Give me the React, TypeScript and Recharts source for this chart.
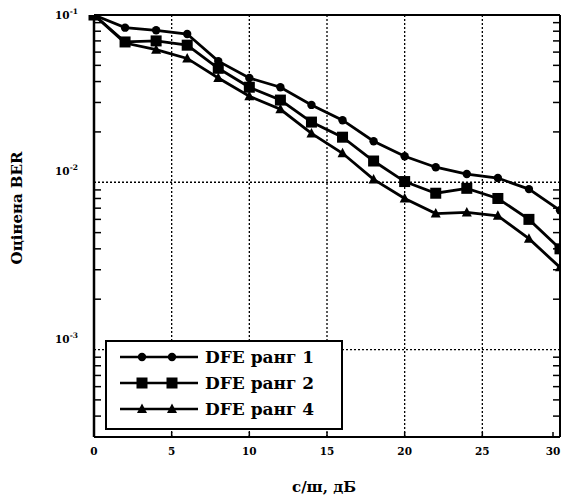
import React from 'react';
import {
  LineChart,
  Line,
  XAxis,
  YAxis,
  CartesianGrid,
  ReferenceLine,
} from 'recharts';

// с/ш, дБ
const snr = [0, 2, 4, 6, 8, 10, 12, 14, 16, 18, 20, 22, 24, 26, 28, 30];

// Оцінена BER
const berRank1 = [0.1, 0.084, 0.081, 0.077, 0.053, 0.042, 0.037, 0.029, 0.0235, 0.0176, 0.0143, 0.0123, 0.0112, 0.0106, 0.0091, 0.0068];
const berRank2 = [0.1, 0.069, 0.07, 0.066, 0.048, 0.037, 0.031, 0.0229, 0.0186, 0.0134, 0.0101, 0.0086, 0.0092, 0.008, 0.006, 0.004];
const berRank4 = [0.1, 0.068, 0.062, 0.055, 0.042, 0.0327, 0.0273, 0.0196, 0.0149, 0.0104, 0.008, 0.0065, 0.0066, 0.0063, 0.0046, 0.0031];

const xTicks = [0, 5, 10, 15, 20, 25, 30];
const xGrid = [5, 10, 15, 20, 25];
const yMajor = [0.001, 0.01, 0.1];
const yMajorLabels = ['-3', '-2', '-1'];
const yMinor = [
  0.0003, 0.0004, 0.0005, 0.0006, 0.0007, 0.0008, 0.0009,
  0.002, 0.003, 0.004, 0.005, 0.006, 0.007, 0.008, 0.009,
  0.02, 0.03, 0.04, 0.05, 0.06, 0.07, 0.08, 0.09,
];
const yTicks = [...yMinor, ...yMajor].sort((a, b) => a - b);
const yDomain = [0.0003, 0.1];

const seriesNames = ['DFE ранг 1', 'DFE ранг 2', 'DFE ранг 4'];

const data = snr.map((s, i) => ({
  snr: s,
  r1: berRank1[i],
  r2: berRank2[i],
  r4: berRank4[i],
}));

const FONT = '"DejaVu Serif", serif';

// markers
const CircleDot = ({ cx, cy }: any) =>
  cx == null ? null : <circle cx={cx} cy={cy} r={4.2} fill="#000" />;
const SquareDot = ({ cx, cy }: any) =>
  cx == null ? null : <rect x={cx - 5.5} y={cy - 5.5} width={11} height={11} fill="#000" />;
const TriangleDot = ({ cx, cy }: any) =>
  cx == null ? null : (
    <polygon points={`${cx},${cy - 5.5} ${cx + 5},${cy + 4} ${cx - 5},${cy + 4}`} fill="#000" />
  );

const markers = [CircleDot, SquareDot, TriangleDot];

const LeftTick = ({ x, y, payload }: any) => {
  const idx = yMajor.indexOf(payload.value);
  const major = idx >= 0;
  const dy = payload.value === 0.1 ? 0 : -11;
  return (
    <g>
      <line x1={x} x2={x + (major ? 0 : 7)} y1={y} y2={y} stroke="#000" strokeWidth={1.5} />
      {major && (
        <text x={x - 16} y={y + dy} textAnchor="end" dominantBaseline="central"
          fontFamily={FONT} fontWeight="bold" fontSize={10.5} fill="#000">
          10
          <tspan fontSize={7.5} dy={-4}>{yMajorLabels[idx]}</tspan>
        </text>
      )}
    </g>
  );
};

const RightTick = ({ x, y, payload }: any) => {
  const major = yMajor.indexOf(payload.value) >= 0;
  return <line x1={x - (major ? 0 : 7)} x2={x} y1={y} y2={y} stroke="#000" strokeWidth={1.5} />;
};

const BottomTick = ({ x, y, payload }: any) => (
  <g>
    <line x1={x} x2={x} y1={y} y2={y - 5} stroke="#000" strokeWidth={1.5} />
    <text x={x} y={y + 14} textAnchor="middle" dominantBaseline="central"
      fontFamily={FONT} fontWeight="bold" fontSize={10.5} fill="#000">
      {payload.value}
    </text>
  </g>
);

function ChartLegend() {
  const rows = [17, 43, 69];
  return (
    <svg width={238} height={90} style={{ position: 'absolute', left: 105, top: 340 }}>
      <rect x={1} y={1} width={236} height={88} fill="#fff" stroke="#000" strokeWidth={2} />
      {seriesNames.map((name, i) => {
        const Mark = markers[i];
        return (
          <g key={name}>
            <line x1={15} x2={93} y1={rows[i]} y2={rows[i]} stroke="#000" strokeWidth={2.5} />
            <Mark cx={37} cy={rows[i]} />
            <Mark cx={67} cy={rows[i]} />
            <text x={100} y={rows[i]} dominantBaseline="central" fontFamily={FONT}
              fontWeight="bold" fontSize={17} fill="#000">
              {name}
            </text>
          </g>
        );
      })}
    </svg>
  );
}

export default function App() {
  const keys = ['r1', 'r2', 'r4'];
  return (
    <div style={{ position: 'absolute', left: 0, top: 0, width: 561, height: 499, background: '#fff' }}>
      <LineChart
        width={561}
        height={499}
        data={data}
        margin={{ top: 15, right: 0, bottom: 0, left: 0 }}
      >
        <CartesianGrid
          stroke="#000"
          strokeWidth={1.3}
          strokeDasharray="2 2"
          verticalValues={xGrid}
          horizontalValues={[0.001, 0.01]}
        />
        <XAxis
          dataKey="snr"
          type="number"
          domain={[0, 30]}
          ticks={xTicks}
          height={62}
          tickSize={0}
          tickMargin={0}
          tick={<BottomTick />}
          axisLine={{ stroke: '#000', strokeWidth: 2 }}
          tickLine={false}
        />
        <YAxis
          scale="log"
          type="number"
          domain={yDomain}
          ticks={yTicks}
          allowDataOverflow
          width={94}
          tickSize={0}
          tickMargin={0}
          tick={<LeftTick />}
          axisLine={{ stroke: '#000', strokeWidth: 2.5 }}
          tickLine={false}
          interval={0}
        />
        <YAxis
          yAxisId="r"
          orientation="right"
          scale="log"
          type="number"
          domain={yDomain}
          ticks={yTicks}
          allowDataOverflow
          width={1}
          tickSize={0}
          tickMargin={0}
          tick={<RightTick />}
          axisLine={{ stroke: '#000', strokeWidth: 2 }}
          tickLine={false}
          interval={0}
        />
        <ReferenceLine y={0.1} stroke="#000" strokeWidth={2} />
        {keys.map((k, i) => {
          const Mark = markers[i];
          return (
            <Line
              key={k}
              dataKey={k}
              name={seriesNames[i]}
              stroke="#000"
              strokeWidth={2.8}
              dot={<Mark />}
              activeDot={false}
              isAnimationActive={false}
            />
          );
        })}
      </LineChart>
      <ChartLegend />
      <div
        style={{
          position: 'absolute', left: 17, top: 208, transform: 'translate(-50%, -50%) rotate(-90deg)',
          fontFamily: FONT, fontWeight: 'bold', fontSize: 15, whiteSpace: 'nowrap', color: '#000',
        }}
      >
        Оцінена BER
      </div>
      <div
        style={{
          position: 'absolute', left: 324, top: 487, transform: 'translate(-50%, -50%)',
          fontFamily: FONT, fontWeight: 'bold', fontSize: 15, whiteSpace: 'nowrap', color: '#000',
        }}
      >
        с/ш, дБ
      </div>
    </div>
  );
}
